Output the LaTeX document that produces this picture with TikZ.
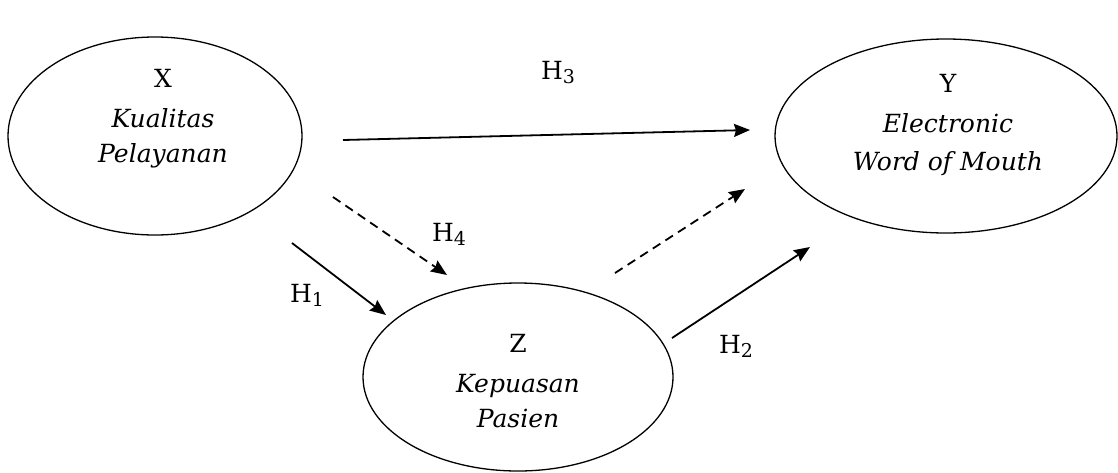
\documentclass[tikz,border=0pt]{standalone}
\usepackage{fontspec}
\setmainfont{DejaVu Serif}
\usetikzlibrary{arrows.meta}
\newcommand{\hlab}[1]{H\raisebox{-4pt}{\fontsize{19}{19}\selectfont #1}}
\begin{document}
\begin{tikzpicture}[x=1pt,y=-1pt,
  txt/.style={anchor=base,inner sep=0pt,font=\fontsize{25}{30}\selectfont},
  itxt/.style={txt,font=\fontsize{25}{30}\selectfont\itshape},
  hyp/.style={anchor=base,inner sep=0pt,font=\fontsize{25}{30}\selectfont},
  ring/.style={line width=1.3pt},
  link/.style={line width=1.8pt,-{Stealth[length=16pt,width=13pt,inset=2pt]}},
  dlink/.style={link,dash pattern=on 9pt off 6pt}]
\useasboundingbox (0,0) rectangle (1118,472);
\fill[white] (0,0) rectangle (1118,472);
\draw[ring] (155,136) ellipse [x radius=147, y radius=99];
\node[inner sep=0pt] (X) at (155,136) {};
\draw[ring] (946,136) ellipse [x radius=171, y radius=97];
\node[inner sep=0pt] (Y) at (946,136) {};
\draw[ring] (518,377) ellipse [x radius=155, y radius=94];
\node[inner sep=0pt] (Z) at (518,377) {};
% texts
\node[txt] (x1) at (163,87) {X};
\node[itxt] (x2) at (163,127) {Kualitas};
\node[itxt] (x3) at (163,162) {Pelayanan};
\node[txt] (y1) at (948,92) {Y};
\node[itxt] (y2) at (948,132) {Electronic};
\node[itxt] (y3) at (948,170) {Word of Mouth};
\node[txt] (z1) at (518,352) {Z};
\node[itxt] (z2) at (518,392) {Kepuasan};
\node[itxt] (z3) at (518,427) {Pasien};
% hypothesis labels
\node[hyp] (h3) at (558,79) {\hlab{3}};
\node[hyp] (h4) at (449,241) {\hlab{4}};
\node[hyp] (h1) at (307,302) {\hlab{1}};
\node[hyp] (h2) at (736,353) {\hlab{2}};
% arrow ends
\coordinate (a3s) at (343,140);
\coordinate (a3e) at (750,130);
\coordinate (a4s) at (333,197);
\coordinate (a4e) at (447,275);
\coordinate (a1s) at (292,243);
\coordinate (a1e) at (386,315);
\coordinate (a5s) at (615,273);
\coordinate (a5e) at (745,189);
\coordinate (a2s) at (672,338);
\coordinate (a2e) at (810,247);
\draw[link] (a3s) -- (a3e);
\draw[dlink] (a4s) -- (a4e);
\draw[link] (a1s) -- (a1e);
\draw[dlink] (a5s) -- (a5e);
\draw[link] (a2s) -- (a2e);
\end{tikzpicture}
\end{document}
